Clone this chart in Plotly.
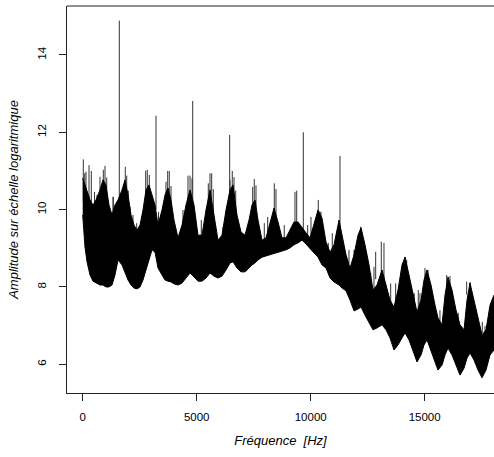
import plotly.graph_objects as go

# ---- data ----
band_freq = [0, 101, 189, 320, 452, 583, 759, 890, 1020, 1153, 1285, 1417, 1548, 1724, 1855, 1987,
             2119, 2250, 2382, 2514, 2645, 2777, 2908, 3040, 3171, 3303, 3478, 3610, 3741, 3873, 4005,
             4180, 4356, 4531, 4707, 4882, 5057, 5233, 5408, 5584, 5759, 5935, 6110, 6286, 6461, 6593,
             6768, 6944, 7119, 7295, 7426, 7558, 7690, 7865, 8041, 8216, 8392, 8567, 8742, 8918, 9093,
             9269, 9444, 9620, 9795, 9971, 10146, 10322, 10497, 10673, 10848, 11023, 11243, 11374,
             11550, 11725, 11901, 12076, 12208, 12383, 12559, 12734, 12910, 13129, 13304, 13480, 13655,
             13831, 14006, 14138, 14313, 14489, 14664, 14840, 14971, 15103, 15278, 15454, 15585, 15761,
             15892, 16024, 16199, 16375, 16550, 16726, 16857, 16989, 17164, 17340, 17515, 17691, 17866,
             18041]
band_high = [10.82, 10.64, 10.51, 10.25, 10.12, 10.25, 10.51, 10.77, 10.64, 10.12, 9.86, 10.12, 10.25,
             10.51, 10.77, 10.38, 9.86, 9.60, 9.47, 9.60, 9.99, 10.51, 10.64, 10.38, 10.12, 9.60, 9.99,
             10.38, 10.56, 10.25, 9.73, 9.27, 9.60, 10.12, 10.51, 10.12, 9.34, 9.34, 9.99, 10.51, 9.86,
             9.21, 9.34, 9.99, 10.51, 10.64, 9.86, 9.42, 9.34, 9.73, 10.12, 10.25, 9.73, 9.21, 9.27,
             9.68, 10.04, 9.68, 9.27, 9.27, 9.47, 9.68, 9.68, 9.53, 9.40, 9.27, 9.60, 9.99, 9.78, 9.16,
             8.90, 9.09, 9.73, 9.34, 8.83, 8.49, 8.83, 9.34, 9.53, 9.09, 8.57, 7.92, 8.05, 8.44, 8.05,
             7.66, 7.48, 7.92, 8.57, 8.77, 8.31, 7.79, 7.35, 7.66, 8.18, 8.44, 8.05, 7.53, 7.20, 7.02,
             7.79, 8.26, 7.92, 7.40, 7.02, 6.89, 7.66, 8.10, 7.66, 7.15, 6.76, 6.89, 7.53, 7.79]
band_low = [9.86, 9.03, 8.65, 8.31, 8.15, 8.10, 8.05, 8.05, 8.00, 8.00, 8.05, 8.31, 8.70, 8.57, 8.39,
            8.18, 8.05, 7.97, 7.95, 8.00, 8.18, 8.44, 8.75, 8.96, 8.90, 8.49, 8.31, 8.18, 8.15, 8.13,
            8.08, 8.05, 8.10, 8.23, 8.36, 8.26, 8.15, 8.15, 8.23, 8.36, 8.28, 8.23, 8.28, 8.44, 8.62,
            8.65, 8.49, 8.39, 8.39, 8.49, 8.57, 8.62, 8.70, 8.77, 8.80, 8.85, 8.88, 8.90, 8.93, 8.96,
            9.01, 9.09, 9.14, 9.21, 9.11, 8.98, 8.88, 8.77, 8.57, 8.49, 8.23, 8.13, 8.05, 7.97, 7.90,
            7.66, 7.38, 7.43, 7.48, 7.27, 7.07, 6.89, 6.94, 7.02, 6.89, 6.68, 6.37, 6.50, 6.68, 6.81,
            6.63, 6.37, 6.06, 6.24, 6.50, 6.63, 6.37, 6.06, 5.85, 5.98, 6.24, 6.42, 6.24, 5.98, 5.72,
            5.90, 6.16, 6.29, 6.11, 5.85, 5.65, 5.85, 6.24, 6.37]

spike_freq = [1605, 3215, 4825, 6447, 9676, 11285,
              26, 88, 145, 276, 377, 518, 627, 759, 904, 978, 1053, 1329, 1342, 1439, 1811, 1868,
              1930, 2000, 2075, 2206, 2368, 2513, 2763, 2833, 2921, 3171, 3325, 3653, 3728, 3798,
              3873, 4399, 4618, 4707, 4794, 5202, 5509, 5584, 5658, 5728, 5860, 6154, 6461, 6561,
              6636, 6711, 6812, 7088, 7456, 7526, 7601, 7965, 8114, 8404, 8478, 8842, 9311, 9386,
              9868, 10013, 10333, 10408, 10452, 10772, 10947, 11605, 11680, 11899, 12193, 12631,
              12776, 12851, 13097, 13215, 13509, 13728, 13873, 14136, 14211, 14430, 14544, 14719,
              14794, 15013, 15145, 15377, 15671, 15965, 16110, 16329, 16474, 16842, 16989, 17281,
              17527, 17645]
spike_top = [14.89, 12.43, 12.81, 11.93, 12.00, 11.39,
             11.30, 10.94, 10.98, 11.15, 11.00, 10.46, 10.38, 10.85, 11.03, 11.13, 10.83, 10.33,
             10.33, 9.99, 10.64, 11.11, 10.88, 10.49, 10.07, 9.86, 9.65, 9.40, 11.01, 11.03, 10.90,
             9.81, 9.94, 10.72, 11.00, 11.00, 10.61, 9.99, 10.88, 10.88, 10.81, 9.73, 10.68, 10.94,
             10.94, 10.53, 9.40, 9.55, 10.77, 11.00, 10.84, 10.49, 9.47, 9.21, 10.59, 10.79, 10.63,
             9.65, 9.81, 10.68, 10.53, 9.60, 10.46, 10.49, 9.60, 9.81, 10.25, 9.95, 9.94, 9.14,
             9.39, 8.70, 8.96, 8.96, 9.56, 8.36, 8.52, 8.91, 9.17, 9.14, 8.09, 8.09, 7.79, 8.78,
             8.70, 7.88, 7.84, 7.92, 7.84, 8.49, 8.44, 7.59, 7.40, 8.31, 8.28, 7.46, 7.33, 8.14,
             8.13, 7.10, 7.10, 6.99]
spike_base = [10.0, 10.0, 10.0, 10.2, 9.3, 9.5,
              10.2, 10.2, 10.2, 10.0, 10.0, 10.0, 10.0, 10.2, 10.4, 10.4, 10.2, 9.7, 9.7, 9.8, 10.2,
              10.4, 10.2, 10.0, 9.6, 9.4, 9.3, 9.3, 10.2, 10.4, 10.3, 9.7, 9.5, 10.2, 10.3, 10.3,
              10.0, 9.5, 10.2, 10.3, 10.2, 9.2, 10.0, 10.2, 10.2, 9.8, 9.1, 9.2, 10.2, 10.3, 10.2,
              10.0, 9.3, 9.1, 9.9, 10.0, 9.9, 9.1, 9.2, 9.8, 9.8, 9.1, 9.5, 9.5, 9.3, 9.2, 9.6, 9.6,
              9.6, 8.8, 9.0, 8.4, 8.6, 8.6, 9.2, 7.8, 7.8, 8.2, 8.3, 8.2, 7.6, 7.5, 7.3, 8.5, 8.4,
              7.7, 7.5, 7.3, 7.4, 8.2, 8.2, 7.4, 7.0, 7.9, 7.9, 7.2, 7.0, 7.8, 7.8, 6.8, 6.8, 6.8]

x_ticks = [0, 5000, 10000, 15000]
y_ticks = [6, 8, 10, 12, 14]

# ---- figure ----
sx, sy = [], []
for f, b, t in zip(spike_freq, spike_base, spike_top):
    sx += [f, f, None]
    sy += [b, t, None]

fig = go.Figure()
fig.add_trace(go.Scatter(x=sx, y=sy, mode="lines", line=dict(color="#333333", width=1),
                         hoverinfo="skip", showlegend=False))
fig.add_trace(go.Scatter(x=band_freq, y=band_low, mode="lines",
                         line=dict(color="black", width=1), showlegend=False))
fig.add_trace(go.Scatter(x=band_freq, y=band_high, mode="lines", fill="tonexty",
                         fillcolor="black", line=dict(color="black", width=1), showlegend=False))

axis_font = dict(family="Liberation Sans, Arial, sans-serif", size=11.5, color="black")
title_font = dict(family="Liberation Sans, Arial, sans-serif", size=13, color="black")

fig.update_layout(
    width=494, height=457,
    margin=dict(l=67, r=0, t=6, b=64),
    paper_bgcolor="white", plot_bgcolor="white",
    xaxis=dict(range=[-689, 18041], tickvals=x_ticks, ticktext=[str(v) for v in x_ticks],
               showgrid=False, zeroline=False, showline=True, linecolor="#222", linewidth=1,
               ticks="outside", ticklen=7, tickcolor="#222", tickfont=axis_font,
               ticklabelstandoff=6,
               title=dict(text="<i>Fréquence  [Hz]</i>", font=title_font, standoff=14)),
    yaxis=dict(range=[5.257, 15.267], tickvals=y_ticks, ticktext=[str(v) for v in y_ticks],
               showgrid=False, zeroline=False, showline=True, linecolor="#222", linewidth=1,
               ticks="outside", ticklen=7, tickcolor="#222", tickfont=axis_font, tickangle=-90,
               ticklabelstandoff=8,
               title=dict(text="<i>Amplitude sur échelle logaritmique</i>", font=title_font, standoff=14)),
    shapes=[dict(type="line", xref="paper", yref="paper", x0=0, x1=1, y0=1, y1=1,
                 line=dict(color="#222", width=1))],
)

fig.write_html("out.html", config={"displayModeBar": False},
               post_script="document.body.style.margin='0';")
